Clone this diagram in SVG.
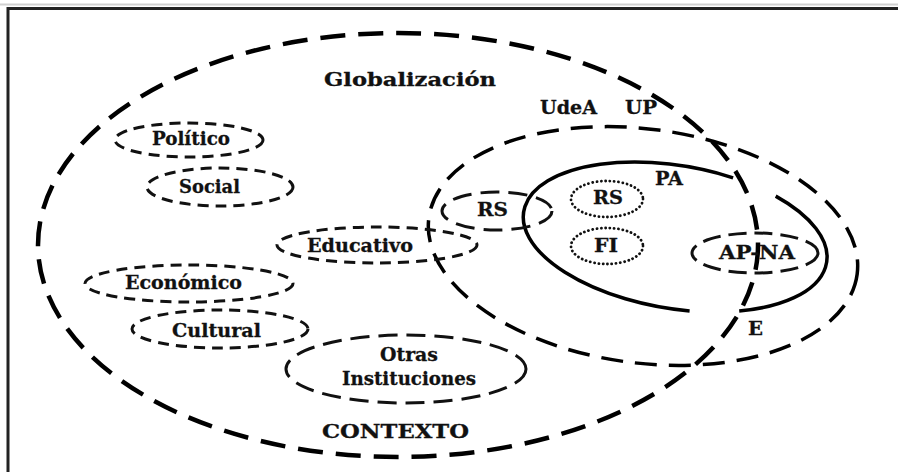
<svg xmlns="http://www.w3.org/2000/svg" width="898" height="472" viewBox="0 0 898 472">
<style>
.t{font-family:"DejaVu Serif","Liberation Serif",serif;font-weight:bold;font-size:19px;fill:#111;stroke:#111;stroke-width:0.3}
.big{fill:none;stroke:#000;stroke-width:4.5;stroke-dasharray:25 13}
.mid{fill:none;stroke:#000;stroke-width:3.5;stroke-dasharray:22 12}
.sm{fill:none;stroke:#111;stroke-width:3;stroke-dasharray:11 7}
.lg{fill:none;stroke:#111;stroke-width:3;stroke-dasharray:19 9}
.dot{fill:none;stroke:#111;stroke-width:2.8;stroke-dasharray:0.1 4.2;stroke-linecap:round}
.solid{fill:none;stroke:#000;stroke-width:3.5}
</style>
<rect width="898" height="472" fill="#fff"/>
<g id="frame">
<line x1="0" y1="4.5" x2="898" y2="4.5" stroke="#d0d0d0" stroke-width="2"/>
<path d="M8,472 V8.5 H898" fill="none" stroke="#222" stroke-width="3"/>
</g>
<g id="contexto">
<ellipse class="big" cx="398" cy="245" rx="360" ry="212"/>
<text class="t" x="324" y="86" font-size="20" textLength="172" lengthAdjust="spacingAndGlyphs">Globalización</text>
<text class="t" x="322" y="438" textLength="147" lengthAdjust="spacingAndGlyphs">CONTEXTO</text>
</g>
<g id="udea">
<ellipse class="mid" cx="643" cy="246" rx="216" ry="117" transform="rotate(7.5 643 246)"/>
<text class="t" x="540" y="114" textLength="57" lengthAdjust="spacingAndGlyphs">UdeA</text>
<text class="t" x="625" y="114" textLength="32" lengthAdjust="spacingAndGlyphs">UP</text>
<text class="t" x="748" y="335" textLength="15" lengthAdjust="spacingAndGlyphs">E</text>
</g>
<g id="pa">
<path class="solid" d="M689.6,310.9 A153.7,71.5 9.6 1 1 733.1,177.8"/>
<path class="solid" d="M775.7,196.1 A153.7,71.5 9.6 0 1 739.2,311"/>
<text class="t" x="655" y="185" textLength="28" lengthAdjust="spacingAndGlyphs">PA</text>
</g>
<g id="politico">
<ellipse class="sm" cx="189" cy="140" rx="74" ry="17"/>
<text class="t" x="152" y="145" textLength="78" lengthAdjust="spacingAndGlyphs">Político</text>
</g>
<g id="social">
<ellipse class="sm" cx="220" cy="187" rx="73" ry="19"/>
<text class="t" x="179" y="193" textLength="61" lengthAdjust="spacingAndGlyphs">Social</text>
</g>
<g id="educativo">
<ellipse class="sm" cx="377" cy="245" rx="100" ry="18"/>
<text class="t" x="307" y="252" textLength="106" lengthAdjust="spacingAndGlyphs">Educativo</text>
</g>
<g id="economico">
<ellipse class="sm" cx="189" cy="283.5" rx="104" ry="18.5"/>
<text class="t" x="125" y="289" textLength="117" lengthAdjust="spacingAndGlyphs">Económico</text>
</g>
<g id="cultural">
<ellipse class="sm" cx="220" cy="329" rx="88" ry="19"/>
<text class="t" x="172" y="337" textLength="89" lengthAdjust="spacingAndGlyphs">Cultural</text>
</g>
<g id="otras">
<ellipse class="lg" cx="406" cy="369" rx="120" ry="34"/>
<text class="t" x="380" y="361" textLength="58" lengthAdjust="spacingAndGlyphs">Otras</text>
<text class="t" x="342" y="385" textLength="134" lengthAdjust="spacingAndGlyphs">Instituciones</text>
</g>
<g id="rs-left">
<ellipse class="lg" cx="497" cy="211" rx="55" ry="19"/>
<text class="t" x="477" y="216" textLength="31" lengthAdjust="spacingAndGlyphs">RS</text>
</g>
<g id="rs-dot">
<ellipse class="dot" cx="607" cy="199" rx="36" ry="18"/>
<text class="t" x="593" y="204" textLength="30" lengthAdjust="spacingAndGlyphs">RS</text>
</g>
<g id="fi">
<ellipse class="dot" cx="607" cy="246" rx="36" ry="18"/>
<text class="t" x="594" y="252" textLength="24" lengthAdjust="spacingAndGlyphs">FI</text>
</g>
<g id="apna">
<ellipse class="lg" cx="755" cy="253" rx="63" ry="20" style="stroke-dasharray:18 8"/>
<text class="t" x="719" y="259" textLength="76" lengthAdjust="spacingAndGlyphs">AP-NA</text>
</g>
<g id="connectors"/>
</svg>
